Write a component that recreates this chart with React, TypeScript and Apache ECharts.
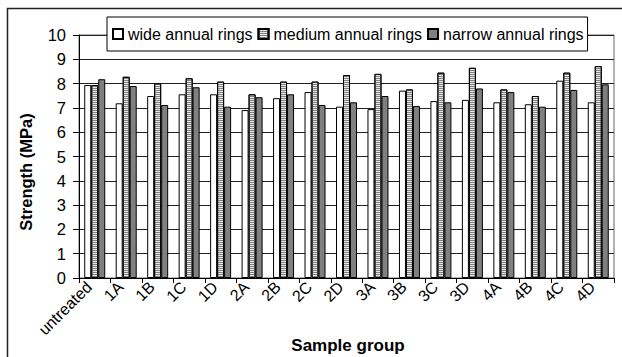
import React, { useEffect, useRef } from "react";
import * as echarts from "echarts";

const categories = ["untreated", "1A", "1B", "1C", "1D", "2A", "2B", "2C", "2D", "3A", "3B", "3C", "3D", "4A", "4B", "4C", "4D"];
const wideRings = [7.94, 7.19, 7.49, 7.56, 7.56, 6.91, 7.40, 7.65, 7.05, 6.95, 7.71, 7.28, 7.33, 7.23, 7.15, 8.12, 7.23];
const mediumRings = [7.94, 8.28, 8.01, 8.22, 8.08, 7.56, 8.08, 8.08, 8.35, 8.40, 7.76, 8.45, 8.65, 7.76, 7.49, 8.45, 8.72];
const narrowRings = [8.18, 7.90, 7.12, 7.85, 7.05, 7.44, 7.56, 7.12, 7.23, 7.49, 7.08, 7.23, 7.80, 7.65, 7.05, 7.74, 7.97];
const seriesNames = ["wide annual rings", "medium annual rings", "narrow annual rings"];
const yAxisTitle = "Strength (MPa)";
const xAxisTitle = "Sample group";

const FONT = "'Liberation Sans', Arial, sans-serif";

export default function App() {
  const ref = useRef<HTMLDivElement>(null);
  useEffect(() => {
    if (!ref.current) return;
    const chart = echarts.init(ref.current, null, { renderer: "svg" });
    const barBase = { type: "bar", barWidth: 7, barGap: "0%", barCategoryGap: "33%" };
    chart.setOption({
      animation: false,
      backgroundColor: "#ffffff",
      textStyle: { fontFamily: FONT, color: "#000" },
      grid: {
        left: 79,
        top: 35,
        width: 535,
        height: 243,
        show: true,
        borderColor: "#666",
        borderWidth: 1,
        backgroundColor: "transparent",
      },
      legend: {
        left: 107,
        top: 17,
        padding: [9, 4, 9, 5],
        itemWidth: 10,
        itemHeight: 10,
        itemGap: 5,
        icon: "rect",
        backgroundColor: "#fff",
        borderColor: "#000",
        borderWidth: 1,
        textStyle: { fontFamily: FONT, fontSize: 16, color: "#000" },
        data: seriesNames,
        z: 10,
      },
      xAxis: {
        type: "category",
        data: categories,
        boundaryGap: true,
        axisLine: { lineStyle: { color: "#000", width: 1 } },
        axisTick: { show: true, length: 5, lineStyle: { color: "#000" } },
        axisLabel: {
          interval: 0,
          rotate: 45,
          fontSize: 16,
          fontFamily: FONT,
          color: "#000",
          margin: 12,
          verticalAlign: "bottom",
        },
        splitLine: { show: false },
      },
      yAxis: {
        type: "value",
        min: 0,
        max: 10,
        interval: 1,
        axisLine: { show: true, lineStyle: { color: "#000", width: 1 } },
        axisTick: { show: true, length: 6, lineStyle: { color: "#000" } },
        axisLabel: { fontSize: 16.5, fontFamily: FONT, color: "#000", margin: 13 },
        splitLine: { show: true, lineStyle: { color: "#222", width: 1 } },
      },
      series: [
        {
          ...barBase,
          name: seriesNames[0],
          data: wideRings,
          itemStyle: { color: "#ffffff", borderColor: "#000", borderWidth: 1 },
        },
        {
          ...barBase,
          name: seriesNames[1],
          data: mediumRings,
          itemStyle: {
            color: "#e8e8e8",
            borderColor: "#000",
            borderWidth: 1,
            decal: {
              symbol: "rect",
              symbolSize: 1,
              color: "#808080",
              dashArrayX: [1, 0],
              dashArrayY: [1, 1],
              rotation: 0,
            },
          },
        },
        {
          ...barBase,
          name: seriesNames[2],
          data: narrowRings,
          itemStyle: { color: "#808080", borderColor: "#000", borderWidth: 1 },
        },
      ],
      graphic: [
        {
          type: "rect",
          shape: { x: 7.5, y: 8.5, width: 700, height: 400 },
          style: { fill: "none", stroke: "#222", lineWidth: 1.5 },
          silent: true,
          z: 100,
        },
        {
          type: "text",
          x: 26,
          y: 172,
          rotation: Math.PI / 2,
          style: {
            text: yAxisTitle,
            font: `bold 16.5px ${FONT}`,
            fill: "#000",
            textAlign: "center",
            textVerticalAlign: "middle",
          },
        },
        {
          type: "text",
          x: 348,
          y: 345,
          style: {
            text: xAxisTitle,
            font: `bold 17px ${FONT}`,
            fill: "#000",
            textAlign: "center",
            textVerticalAlign: "middle",
          },
        },
      ],
    });
    return () => chart.dispose();
  }, []);
  return <div ref={ref} style={{ position: "fixed", left: 0, top: 0, width: 622, height: 357 }} />;
}
